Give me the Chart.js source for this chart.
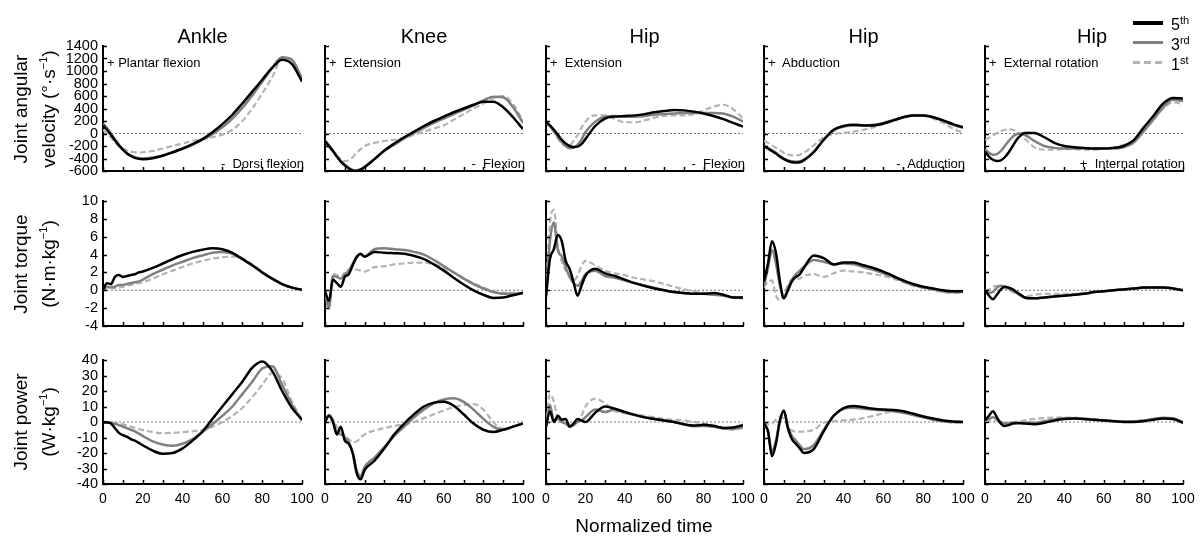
<!DOCTYPE html>
<html>
<head>
<meta charset="utf-8">
<script src="https://cdn.jsdelivr.net/npm/chart.js@4.4.1/dist/chart.umd.min.js"></script>
<style>
body { margin: 0; background: #fff; }
#fig { position: relative; width: 1202px; height: 536px; overflow: hidden; font-family: "Liberation Sans", Arial, sans-serif; color: #000; }
#fig canvas { position: absolute; }
.title { position: absolute; top: 26px; font-size: 20px; line-height: 1; transform: translateX(-50%); white-space: nowrap; }
.ylab { position: absolute; width: 240px; text-align: center; font-size: 19px; line-height: 22px; transform: translate(-50%, -50%) rotate(-90deg); white-space: nowrap; }
.ylab sup, .leg sup { font-size: 11px; }
.note { position: absolute; font-size: 13px; line-height: 1; white-space: nowrap; transform: translateY(-50%); }
.xlab { position: absolute; left: 644px; top: 525px; font-size: 19px; line-height: 1; transform: translate(-50%, -50%); white-space: nowrap; }
.legline { position: absolute; left: 1133px; width: 30px; }
.leg { position: absolute; left: 1171px; font-size: 16px; line-height: 1; transform: translateY(-50%); white-space: nowrap; }
</style>
</head>
<body>
<div id="fig"></div>
<script>
// normalized time (%)
const time = [0, 2, 4, 6, 8, 10, 12, 14, 16, 18, 20, 25, 30, 35, 40, 45, 50, 55, 60, 65, 70, 75, 80, 85, 90, 95, 100];

// joint angular velocity (deg/s)
const ankleVel5 = [130, 60, -20, -110, -190, -260, -320, -360, -390, -405, -410, -395, -355, -300, -240, -170, -90, 20, 150, 300, 480, 670, 860, 1050, 1180, 1110, 830];
const ankleVel3 = [160, 90, 0, -90, -180, -250, -310, -350, -380, -395, -400, -385, -350, -300, -245, -180, -100, -10, 100, 240, 410, 610, 830, 1050, 1220, 1180, 870];
const ankleVel1 = [60, 0, -70, -140, -200, -240, -270, -290, -300, -305, -300, -280, -240, -200, -160, -120, -90, -60, -20, 60, 200, 400, 640, 900, 1200, 1170, 880];
const kneeVel5 = [-120, -200, -280, -370, -450, -510, -560, -595, -600, -580, -540, -410, -270, -160, -60, 30, 120, 200, 270, 340, 400, 460, 510, 510, 420, 260, 70];
const kneeVel3 = [-110, -190, -270, -360, -440, -500, -550, -585, -590, -570, -530, -410, -280, -180, -80, 10, 90, 170, 240, 310, 380, 450, 530, 590, 580, 420, 170];
const kneeVel1 = [-120, -200, -290, -360, -410, -440, -430, -380, -310, -250, -200, -150, -120, -100, -70, -20, 30, 80, 130, 220, 310, 400, 480, 570, 600, 470, 200];
const hipFlxVel5 = [180, 130, 60, -20, -100, -160, -200, -215, -210, -170, -90, 120, 240, 270, 280, 290, 310, 340, 360, 375, 370, 350, 320, 280, 230, 170, 110];
const hipFlxVel3 = [180, 120, 40, -50, -140, -200, -235, -230, -180, -100, 20, 190, 270, 280, 270, 270, 280, 300, 310, 320, 330, 330, 330, 330, 320, 270, 190];
const hipFlxVel1 = [180, 110, 20, -80, -160, -200, -190, -120, -20, 90, 190, 290, 290, 230, 180, 180, 210, 250, 280, 290, 290, 310, 370, 430, 460, 390, 240];
const hipAbdVel5 = [-210, -240, -280, -320, -370, -410, -440, -460, -465, -460, -430, -300, -100, 60, 120, 140, 130, 130, 160, 210, 260, 290, 290, 260, 210, 150, 100];
const hipAbdVel3 = [-200, -230, -270, -310, -360, -400, -430, -445, -450, -445, -420, -290, -100, 50, 110, 130, 130, 140, 170, 215, 260, 290, 290, 260, 200, 140, 90];
const hipAbdVel1 = [-120, -150, -190, -230, -270, -310, -335, -350, -350, -340, -310, -190, -60, -10, 10, 30, 60, 100, 150, 200, 250, 280, 280, 240, 170, 80, 10];
const hipRotVel5 = [-290, -370, -420, -440, -430, -380, -300, -200, -100, -30, 10, 10, -60, -150, -200, -220, -230, -240, -240, -230, -200, -110, 90, 280, 480, 570, 560];
const hipRotVel3 = [-250, -310, -340, -330, -280, -200, -120, -50, -10, 0, -20, -120, -200, -230, -240, -240, -240, -240, -240, -240, -220, -150, 30, 220, 420, 540, 520];
const hipRotVel1 = [-100, -70, -30, 10, 40, 60, 65, 60, 30, -20, -80, -220, -260, -260, -250, -250, -260, -260, -240, -220, -180, -120, 50, 230, 400, 500, 470];

// joint torque (N.m/kg)
const ankleTq5 = [0.1, 0.8, 0.7, 1.5, 1.7, 1.5, 1.6, 1.7, 1.8, 2.0, 2.1, 2.5, 3.0, 3.5, 3.95, 4.3, 4.55, 4.7, 4.6, 4.2, 3.5, 2.8, 2.0, 1.3, 0.7, 0.3, 0.05];
const ankleTq3 = [0, 0.4, 0.3, 0.4, 0.6, 0.6, 0.7, 0.8, 0.9, 1.0, 1.2, 1.8, 2.3, 2.8, 3.2, 3.6, 3.9, 4.2, 4.3, 4.1, 3.5, 2.8, 2.0, 1.3, 0.7, 0.3, 0.05];
const ankleTq1 = [0, 0.3, 0.5, 0.2, 0.3, 0.4, 0.5, 0.6, 0.7, 0.8, 0.9, 1.3, 1.8, 2.2, 2.6, 3.0, 3.3, 3.55, 3.7, 3.77, 3.6, 2.9, 2.1, 1.35, 0.7, 0.3, 0.05];
const kneeTq5 = [-0.1, -1.2, 1.2, 0.8, 0.4, 1.5, 1.8, 2.8, 3.7, 4.1, 3.75, 4.3, 4.2, 4.15, 4.1, 3.85, 3.5, 2.9, 2.2, 1.4, 0.65, 0.0, -0.5, -0.85, -0.8, -0.55, -0.3];
const kneeTq3 = [-0.3, -1.9, 1.6, 1.5, 1.3, 1.8, 2.2, 3.0, 3.8, 4.0, 3.8, 4.6, 4.7, 4.6, 4.5, 4.3, 4.0, 3.4, 2.7, 2.0, 1.3, 0.7, 0.2, -0.2, -0.4, -0.4, -0.3];
const kneeTq1 = [-0.3, -2.2, 1.8, 1.7, 1.4, 2.0, 2.3, 2.5, 2.3, 2.2, 2.1, 2.6, 2.7, 2.9, 3.0, 3.1, 3.1, 2.9, 2.5, 2.0, 1.4, 0.8, 0.3, -0.1, -0.3, -0.3, -0.3];
const hipFlxTq5 = [-0.7, 3.5, 4.6, 6.2, 5.5, 3.3, 2.4, 0.9, -0.6, 0.5, 1.6, 2.4, 1.9, 1.6, 1.2, 0.8, 0.5, 0.2, 0.0, -0.2, -0.3, -0.4, -0.4, -0.3, -0.5, -0.8, -0.8];
const hipFlxTq3 = [-0.7, 5.5, 7.6, 4.5, 3.8, 2.6, 1.5, 0.8, 0.5, 1.0, 1.8, 2.2, 1.6, 1.4, 1.1, 0.8, 0.5, 0.3, 0.0, -0.2, -0.3, -0.4, -0.4, -0.5, -0.6, -0.8, -0.8];
const hipFlxTq1 = [-0.5, 7.5, 9.0, 5.0, 3.2, 2.2, 1.5, 1.1, 1.6, 2.7, 3.3, 2.8, 2.2, 1.9, 1.7, 1.4, 1.2, 1.0, 0.7, 0.4, 0.1, -0.1, -0.3, -0.4, -0.6, -0.8, -0.9];
const hipAbdTq5 = [1.0, 3.0, 5.5, 4.2, 1.0, -0.9, 0.0, 1.0, 1.5, 1.8, 2.5, 3.9, 3.6, 2.9, 3.1, 3.1, 2.8, 2.5, 2.1, 1.6, 1.1, 0.7, 0.4, 0.2, 0.0, -0.1, -0.1];
const hipAbdTq3 = [0.5, 2.5, 4.5, 3.0, 0.5, -0.9, 0.2, 1.2, 1.8, 2.2, 2.6, 3.4, 3.2, 2.9, 3.0, 2.9, 2.6, 2.3, 1.9, 1.5, 1.0, 0.6, 0.3, 0.1, -0.1, -0.2, -0.2];
const hipAbdTq1 = [0.3, 1.0, 1.1, -0.6, -1.1, -0.5, 0.6, 1.2, 1.3, 1.3, 1.6, 1.8, 1.5, 1.9, 2.2, 2.1, 2.0, 1.8, 1.6, 1.3, 0.9, 0.5, 0.3, 0.0, -0.2, -0.3, -0.3];
const hipRotTq5 = [0.0, -0.6, -1.0, -0.5, 0.1, 0.4, 0.3, 0.1, -0.2, -0.5, -0.8, -0.9, -0.8, -0.7, -0.6, -0.5, -0.4, -0.2, -0.1, 0.0, 0.1, 0.2, 0.3, 0.3, 0.3, 0.2, 0.0];
const hipRotTq3 = [0.0, -0.3, -0.2, 0.3, 0.5, 0.4, 0.2, 0.0, -0.3, -0.6, -0.8, -0.9, -0.8, -0.7, -0.6, -0.5, -0.4, -0.2, -0.1, 0.0, 0.1, 0.2, 0.3, 0.3, 0.3, 0.2, 0.0];
const hipRotTq1 = [0.0, 0.1, 0.4, 0.5, 0.4, 0.2, 0.0, -0.2, -0.4, -0.6, -0.7, -0.5, -0.4, -0.4, -0.4, -0.4, -0.3, -0.2, -0.1, 0.0, 0.1, 0.2, 0.2, 0.3, 0.3, 0.2, 0.0];

// joint power (W/kg)
const anklePw5 = [0, -0.3, -1.0, -4, -7, -8.5, -9.5, -11, -12, -13.5, -15, -18.5, -20.5, -20, -17, -12, -6, 2, 10, 18, 26, 35, 39, 33, 20, 9, 1.5];
const anklePw3 = [0, -0.2, -0.6, -1.2, -2, -3, -4, -5, -6, -7.5, -9, -12.5, -14.5, -15.3, -14, -11, -6.5, -1.5, 4, 10, 18, 26, 34.5, 36, 24, 11, 1];
const anklePw1 = [0, 0, -0.3, -0.6, -1, -1.5, -2.2, -3, -3.8, -4.5, -5.2, -6.5, -7.2, -7, -6.5, -6, -5, -3, 0, 4, 9, 16, 24, 31.5, 28, 13, 1.5];
const kneePw5 = [0, 4, 0, -8, -3, -12, -14, -20, -33, -37, -31, -25, -17, -8, -1, 5, 10, 12.5, 13, 10.5, 5, -1, -5, -6.5, -5, -3, -1];
const kneePw3 = [0, 4.5, 1, -7, -8, -10, -13, -20, -31, -35, -29, -23, -16, -9, -3, 3, 8, 12, 14.5, 15.3, 13, 8, 2, -3, -5, -3, -1];
const kneePw1 = [0, 4, 2, -3, -6, -9, -11, -13, -12.5, -10, -8, -5.5, -4, -2.5, -1.5, 0, 2.5, 5, 7.5, 9.5, 11, 11.5, 8, 0, -4.5, -3, -1];
const hipFlxPw5 = [-3, 7, 0, 4, 1.5, 2, -3, -1, 2, 1, 0, 6, 10, 8.5, 6.5, 4.6, 3, 2, 1, 0, -1.5, -2.3, -1.8, -2.5, -3.8, -3.5, -2];
const hipFlxPw3 = [-3, 11, 1, 2, 0, -1, -3, -2, 0, 1, 3, 8, 6.5, 8, 6, 4.5, 3, 2, 1, 0, -1.5, -2.8, -2.5, -3, -4.2, -4.5, -3];
const hipFlxPw1 = [-3, 18, 13, 2, 0, -1, -3, -2, 1, 4, 10, 15, 12, 7, 6, 5, 4, 3, 2, 1.5, 1, 0, -1, -2, -4, -5, -4];
const hipAbdPw5 = [-1, -6, -22, -14, 1, 7.5, -4, -11, -14, -17, -20, -17.5, -6, 4, 9, 10.3, 9.5, 8.5, 8, 7.8, 7, 5.3, 3.6, 2.2, 1, 0.3, 0];
const hipAbdPw3 = [-1, -6, -19, -12, 1, 7, -3, -9, -12, -15, -17.5, -15, -5, 4, 8.5, 9.2, 8.5, 8, 7.5, 7, 6, 4.5, 3, 1.5, 0.5, 0, 0];
const hipAbdPw1 = [0, -1.5, -1, 1.5, 3.5, 2, -3, -5.5, -6.2, -6.2, -6.2, -5, -0.5, 0.5, 1, 1.5, 2.5, 4, 5.5, 7, 7, 5.5, 4, 2, 0.5, -0.5, -0.5];
const hipRotPw5 = [1, 4, 7, 3, -1, -2.5, -2, -1, -0.8, -0.8, -1, -1.5, -0.5, 1, 2, 2.2, 2, 1.5, 1, 0.5, 0, 0, 0.5, 1.5, 2.3, 2, -0.5];
const hipRotPw3 = [1, 2, 3, 2, 0, -1, -1, -0.5, -0.5, -0.5, -0.5, -0.5, 0.5, 1.5, 2.5, 2.5, 2, 1.5, 1, 0.5, 0.3, 0.3, 1, 2, 2.8, 2.5, 0];
const hipRotPw1 = [0, 0.5, 1, 0.8, 0, -0.5, -0.3, 0, 0.3, 0.5, 1, 2, 2.5, 2.8, 3, 2.8, 2.3, 1.8, 1.2, 0.8, 0.5, 0.5, 1, 1.8, 2.3, 1.8, 0];

// zero reference line
const zeroTime = [0, 100];
const zeroLevel = [0, 0];

// tick labels
const velTicks = [-600, -400, -200, 0, 200, 400, 600, 800, 1000, 1200, 1400];
const torqueTicks = [-4, -2, 0, 2, 4, 6, 8, 10];
const powerTicks = [-40, -30, -20, -10, 0, 10, 20, 30, 40];
const timeTicks = [0, 20, 40, 60, 80, 100];

const columnTitles = ['Ankle', 'Knee', 'Hip', 'Hip', 'Hip'];
const seriesLabels = ['5th', '3rd', '1st'];
const notesTop = ['+ Plantar flexion', '+\u00a0 Extension', '+\u00a0 Extension', '+\u00a0 Abduction', '+\u00a0 External rotation'];
const notesBottom = ['-\u00a0 Dorsi flexion', '-\u00a0 Flexion', '-\u00a0 Flexion', '-\u00a0 Adduction', '+\u00a0 Internal rotation'];

const panels = [
    [[ankleVel5, ankleVel3, ankleVel1], [kneeVel5, kneeVel3, kneeVel1], [hipFlxVel5, hipFlxVel3, hipFlxVel1], [hipAbdVel5, hipAbdVel3, hipAbdVel1], [hipRotVel5, hipRotVel3, hipRotVel1]],
    [[ankleTq5, ankleTq3, ankleTq1], [kneeTq5, kneeTq3, kneeTq1], [hipFlxTq5, hipFlxTq3, hipFlxTq1], [hipAbdTq5, hipAbdTq3, hipAbdTq1], [hipRotTq5, hipRotTq3, hipRotTq1]],
    [[anklePw5, anklePw3, anklePw1], [kneePw5, kneePw3, kneePw1], [hipFlxPw5, hipFlxPw3, hipFlxPw1], [hipAbdPw5, hipAbdPw3, hipAbdPw1], [hipRotPw5, hipRotPw3, hipRotPw1]]
];
const rowTicks = [velTicks, torqueTicks, powerTicks];

// layout (pixels)
const colLeft = [103, 325, 546, 764, 985];
const colRight = [302, 523, 743, 963, 1183];
const rowTop = [46, 201, 360];
const rowBottom = [171, 326, 484];
const padL = 56, padT = 12, padR = 18, padB = 30;

const seriesStyle = [
    { borderColor: '#000000', borderWidth: 2.5 },
    { borderColor: '#808080', borderWidth: 2.5 },
    { borderColor: '#b4b4b4', borderWidth: 2.2, borderDash: [6, 3] }
];

Chart.defaults.font.family = '"Liberation Sans", Arial, sans-serif';
Chart.defaults.color = '#000';

const fig = document.getElementById('fig');

function xy(xs, ys) {
    return xs.map((t, i) => ({ x: t, y: ys[i] }));
}

// small tick marks pointing into the plot
const innerTicks = {
    id: 'innerTicks',
    afterDraw(chart) {
        const { ctx, chartArea, scales } = chart;
        ctx.save();
        ctx.strokeStyle = '#000';
        ctx.lineWidth = 1.5;
        ctx.beginPath();
        scales.x.ticks.forEach(t => {
            const px = Math.round(scales.x.getPixelForValue(t.value)) + 0.5;
            ctx.moveTo(px, chartArea.bottom);
            ctx.lineTo(px, chartArea.bottom - 4);
        });
        scales.y.ticks.forEach(t => {
            const py = Math.round(scales.y.getPixelForValue(t.value)) + 0.5;
            ctx.moveTo(chartArea.left, py);
            ctx.lineTo(chartArea.left + 4, py);
        });
        ctx.stroke();
        ctx.restore();
    }
};

function fixBox(size, key) {
    return function (scale) {
        scale[key] = size;
        scale.paddingLeft = 0;
        scale.paddingRight = 0;
        scale.paddingTop = 0;
        scale.paddingBottom = 0;
    };
}

panels.forEach((row, r) => {
    row.forEach((series, c) => {
        const L = colLeft[c], R = colRight[c], T = rowTop[r], B = rowBottom[r];
        const cv = document.createElement('canvas');
        cv.width = padL + (R - L) + padR;
        cv.height = padT + (B - T) + padB;
        cv.style.left = (L - padL) + 'px';
        cv.style.top = (T - padT) + 'px';
        fig.appendChild(cv);

        const ticks = rowTicks[r];
        const datasets = series.map((vals, k) => Object.assign({
            label: seriesLabels[k],
            data: xy(time, vals)
        }, seriesStyle[k]));
        datasets.push({
            label: 'zero',
            data: xy(zeroTime, zeroLevel),
            borderColor: '#555',
            borderWidth: 0.8,
            borderDash: [2, 2]
        });

        new Chart(cv, {
            type: 'line',
            data: { datasets: datasets },
            options: {
                responsive: false,
                animation: false,
                events: [],
                layout: { padding: { left: 0, top: padT, right: padR, bottom: 0 } },
                elements: {
                    point: { radius: 0 },
                    line: { cubicInterpolationMode: 'monotone', fill: false }
                },
                plugins: { legend: { display: false }, tooltip: { enabled: false } },
                scales: {
                    x: {
                        type: 'linear',
                        min: 0,
                        max: 100,
                        grid: { display: false, drawTicks: false },
                        border: { display: true, color: '#000', width: 2 },
                        ticks: {
                            stepSize: 10,
                            autoSkip: false,
                            maxRotation: 0,
                            padding: 7,
                            font: { size: 14 },
                            callback: v => (r === 2 && timeTicks.includes(v)) ? String(v) : ''
                        },
                        afterFit: fixBox(padB, 'height')
                    },
                    y: {
                        min: ticks[0],
                        max: ticks[ticks.length - 1],
                        grid: { display: false, drawTicks: false },
                        border: { display: true, color: '#000', width: 2 },
                        ticks: {
                            stepSize: ticks[1] - ticks[0],
                            autoSkip: false,
                            padding: 5,
                            font: { size: 14.5 },
                            callback: v => (c === 0 && ticks.includes(v)) ? String(v) : ''
                        },
                        afterFit: fixBox(padL, 'width')
                    }
                }
            },
            plugins: [innerTicks]
        });

        if (r === 0) {
            const top = document.createElement('div');
            top.className = 'note';
            top.textContent = notesTop[c];
            top.style.left = (L + 4) + 'px';
            top.style.top = (T + 16) + 'px';
            fig.appendChild(top);
            const bot = document.createElement('div');
            bot.className = 'note';
            bot.textContent = notesBottom[c];
            bot.style.right = (1202 - R - 2) + 'px';
            bot.style.top = (B - 8) + 'px';
            fig.appendChild(bot);
        }
    });
});

// column titles
columnTitles.forEach((name, c) => {
    const d = document.createElement('div');
    d.className = 'title';
    d.textContent = name;
    d.style.left = ((colLeft[c] + colRight[c]) / 2 + (c === 4 ? 8 : 0)) + 'px';
    fig.appendChild(d);
});

// row (y axis) labels
const rowLabels = [
    'Joint angular<br>velocity (°·s<sup>−1</sup>)',
    'Joint torque<br>(N·m·kg<sup>−1</sup>)',
    'Joint power<br>(W·kg<sup>−1</sup>)'
];
rowLabels.forEach((html, r) => {
    const d = document.createElement('div');
    d.className = 'ylab';
    d.innerHTML = html;
    d.style.left = '35px';
    d.style.top = ((rowTop[r] + rowBottom[r]) / 2) + 'px';
    fig.appendChild(d);
});

const xl = document.createElement('div');
xl.className = 'xlab';
xl.textContent = 'Normalized time';
fig.appendChild(xl);

// legend
const legY = [22, 42, 62];
const legBg = [
    'background:#000;height:4px;',
    'background:#808080;height:3px;',
    'height:3px;background:repeating-linear-gradient(90deg,#b4b4b4 0 7px,transparent 7px 11px);'
];
const legText = ['5<sup>th</sup>', '3<sup>rd</sup>', '1<sup>st</sup>'];
legY.forEach((y, k) => {
    const ln = document.createElement('div');
    ln.className = 'legline';
    ln.style.cssText = legBg[k] + 'top:' + (y - 1.5) + 'px;';
    fig.appendChild(ln);
    const tx = document.createElement('div');
    tx.className = 'leg';
    tx.innerHTML = legText[k];
    tx.style.top = (y + 2) + 'px';
    fig.appendChild(tx);
});
</script>
</body>
</html>
